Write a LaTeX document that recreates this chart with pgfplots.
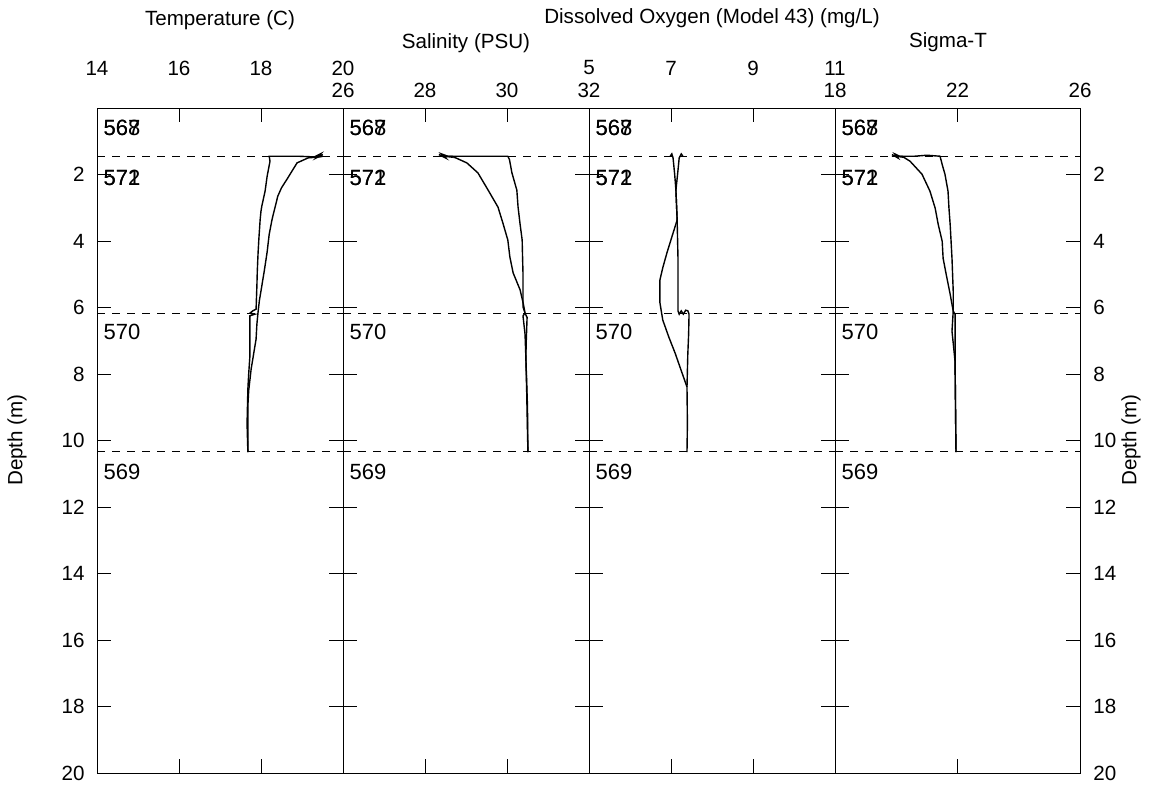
\documentclass[border=0pt]{standalone}
\usepackage{fontspec}
\setmainfont{Liberation Sans}
\usepackage{pgfplots}
\pgfplotsset{compat=1.18}
\pgfplotsset{
  panel/.style={
    scale only axis, width=123pt, height=332.5pt,
    ymin=0, ymax=20, y dir=reverse, anchor=north west,
    axis line style={line width=0.45pt, black},
    tick align=inside, major tick length=7pt,
    tick style={line width=0.4pt, black},
    ytick={2,4,...,20}, yticklabels={},
    xtick pos=both, ytick pos=both, xticklabel pos=upper,
    xticklabel style={anchor=center, inner sep=0pt},
    /pgf/number format/assume math mode=true,
    no markers,
  },
  curve/.style={black, line width=0.7pt},
  dline/.style={black, line width=0.45pt, dash pattern=on 4pt off 3.5pt},
}
\tikzset{stlab/.style={anchor=west, inner sep=0pt, font=\fontsize{11}{13}\selectfont}}
\newcommand{\dashes}[2]{%
  \addplot[dline] coordinates {(#1,1.45) (#2,1.45)};
  \addplot[dline] coordinates {(#1,6.17) (#2,6.17)};
  \addplot[dline] coordinates {(#1,10.32) (#2,10.32)};}
\newcommand{\stations}[1]{%
  \node[stlab] at (axis cs:#1,0.6) {568};
  \node[stlab] at (axis cs:#1,0.6) {567};
  \node[stlab] at (axis cs:#1,2.1) {572};
  \node[stlab] at (axis cs:#1,2.1) {571};
  \node[stlab] at (axis cs:#1,6.74) {570};
  \node[stlab] at (axis cs:#1,10.95) {569};}
\begin{document}
\fontsize{10.3}{12.4}\selectfont
\begin{tikzpicture}
\useasboundingbox (0pt,0pt) rectangle (575pt,394.5pt);

% Panel 1: Temperature
\begin{axis}[panel, at={(48.5pt,340.5pt)}, xmin=14, xmax=20,
  xtick={14,16,18,20}, xticklabels={14,16,18,20},
  xticklabel style={yshift=20pt},
  yticklabel pos=left, yticklabels={2,4,6,8,10,12,14,16,18,20},
  yticklabel style={anchor=east, inner sep=0pt, xshift=-6pt}]
\dashes{14}{20}
\addplot[curve] coordinates {(19.51,1.40)(19.35,1.50)(19.45,1.38)(19.30,1.47)(18.9,1.45)(18.20,1.45)(18.22,1.6)(18.15,2.05)(18.10,2.5)(18.02,2.95)(18.00,3.1)(17.98,3.35)(17.95,3.9)(17.93,4.33)(17.91,4.9)(17.90,5.35)(17.88,6.05)(17.80,6.1)(17.73,6.17)(17.85,6.2)(17.73,6.25)(17.73,7.45)(17.70,8.0)(17.68,8.45)(17.66,9.5)(17.68,10.35)};
\addplot[curve] coordinates {(19.51,1.45)(19.44,1.47)(19.15,1.50)(18.88,1.65)(18.63,2.15)(18.50,2.4)(18.41,2.65)(18.27,3.35)(18.20,3.8)(18.15,4.33)(18.08,4.9)(18.02,5.35)(17.96,5.8)(17.93,6.12)(17.90,6.5)(17.88,6.95)(17.76,7.85)(17.70,8.5)(17.68,8.95)(17.68,10.35)};
\stations{14.15}
\end{axis}

% Panel 2: Salinity
\begin{axis}[panel, at={(171.5pt,340.5pt)}, xmin=26, xmax=32,
  xtick={26,28,30,32}, xticklabels={26,28,30,32},
  xticklabel style={yshift=9pt}]
\dashes{26}{32}
\addplot[curve] coordinates {(28.34,1.40)(28.50,1.50)(28.40,1.38)(28.60,1.47)(28.45,1.45)(29.0,1.45)(30.02,1.45)(30.06,1.55)(30.12,1.95)(30.24,2.47)(30.27,2.98)(30.32,3.5)(30.37,3.97)(30.38,4.5)(30.39,4.96)(30.39,5.98)(30.44,6.17)(30.39,6.25)(30.44,6.8)(30.46,7.49)(30.48,8.5)(30.51,10.35)};
\addplot[curve] coordinates {(28.34,1.45)(28.66,1.45)(29.02,1.65)(29.29,1.95)(29.54,2.47)(29.78,2.98)(29.90,3.46)(30.02,3.97)(30.07,4.48)(30.15,4.96)(30.32,5.47)(30.40,5.9)(30.44,6.17)(30.49,6.3)(30.47,7.0)(30.46,7.49)(30.50,9.0)(30.51,10.35)};
\stations{26.15}
\end{axis}

% Panel 3: Dissolved oxygen
\begin{axis}[panel, at={(294.5pt,340.5pt)}, xmin=5, xmax=11,
  xtick={5,7,9,11}, xticklabels={5,7,9,11},
  xticklabel style={yshift=20pt}]
\dashes{5}{11}
\addplot[curve] coordinates {(6.98,1.45)(7.02,1.38)(7.05,1.5)(7.09,2.0)(7.12,2.47)(7.15,3.37)(7.17,4.5)(7.17,6.1)(7.20,6.2)(7.25,6.1)(7.30,6.2)(7.36,6.08)(7.41,6.1)(7.44,6.2)(7.43,6.8)(7.41,7.4)(7.39,8.39)(7.40,9.5)(7.39,10.35)};
\addplot[curve] coordinates {(7.29,1.45)(7.25,1.38)(7.20,1.5)(7.16,2.0)(7.12,2.47)(7.15,3.37)(7.02,3.88)(6.90,4.36)(6.80,4.8)(6.73,5.17)(6.73,5.86)(6.80,6.38)(6.95,6.9)(7.10,7.37)(7.25,7.9)(7.39,8.39)};
\stations{5.15}
\end{axis}

% Panel 4: Sigma-T
\begin{axis}[panel, width=122.5pt, at={(417.5pt,340.5pt)}, xmin=18, xmax=26,
  xtick={18,22,26}, xticklabels={18,22,26},
  xticklabel style={yshift=9pt},
  yticklabel pos=right, yticklabels={2,4,6,8,10,12,14,16,18,20},
  yticklabel style={anchor=west, inner sep=0pt, xshift=6.5pt}]
\dashes{18}{26}
\addplot[curve] coordinates {(19.86,1.40)(20.05,1.50)(19.95,1.38)(20.15,1.47)(20.0,1.45)(20.6,1.45)(21.0,1.42)(21.43,1.45)(21.50,1.7)(21.59,1.99)(21.69,2.5)(21.72,3.0)(21.76,3.5)(21.82,4.52)(21.86,5.51)(21.86,6.11)(21.92,6.2)(21.92,7.62)(21.95,10.35)};
\addplot[curve] coordinates {(19.86,1.45)(20.19,1.45)(20.45,1.6)(20.84,1.99)(21.10,2.5)(21.27,3.01)(21.37,3.5)(21.50,4.01)(21.53,4.52)(21.63,5.0)(21.76,5.6)(21.86,6.11)(21.82,6.71)(21.92,7.62)(21.95,10.35)};
\stations{18.2}
\end{axis}

% titles and axis labels
\node at (110pt,384.5pt) {Temperature (C)};
\node at (233pt,373pt) {Salinity (PSU)};
\node at (356pt,385.5pt) {Dissolved Oxygen (Model 43) (mg/L)};
\node at (474pt,373.5pt) {Sigma-T};
\node[rotate=90] at (8.5pt,174.5pt) {Depth (m)};
\node[rotate=90] at (565.5pt,174.5pt) {Depth (m)};
\end{tikzpicture}
\end{document}
